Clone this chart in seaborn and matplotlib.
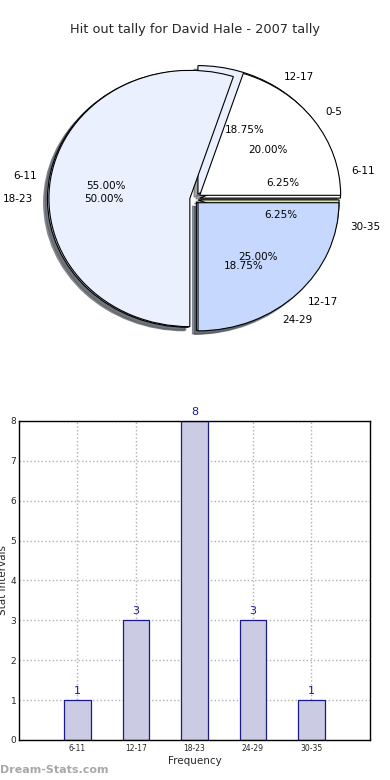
import numpy as np
import pandas as pd
import matplotlib
matplotlib.use("Agg")
import matplotlib.pyplot as plt
import seaborn as sns

# ---- data ----
title = "Hit out tally for David Hale - 2007 tally"
intervals = ["6-11", "12-17", "18-23", "24-29", "30-35"]
counts = [1, 3, 8, 3, 1]
prev_intervals = ["0-5", "6-11", "12-17"]
prev_share = [20, 55, 25]
yticks = [0, 1, 2, 3, 4, 5, 6, 7, 8]

sns.set_style("white")
plt.rcParams['font.family'] = ['DejaVu Sans']

fig = plt.figure(figsize=(3.9, 7.8), dpi=100)

# ---- pie (two overlaid pies, elliptical as in the original) ----
axp = fig.add_axes([0.1, 0.564, 0.795, 0.3615])
colA = ['#ffffff', '#eaf0fd', '#c6d8fd', '#c6d8fd', '#d0e4a0']
wA, tA, aA = axp.pie(counts, labels=intervals, colors=colA, startangle=0,
                     explode=[0.04, 0.05, 0.04, 0.03, 0.03],
                     autopct='%1.2f%%', shadow=True,
                     wedgeprops=dict(edgecolor='black', linewidth=0.8),
                     textprops=dict(fontsize=7.5, color='black'))
colB = ['#ffffff', '#eaf0fd', '#c6d8fd']
wB, tB, aB = axp.pie(prev_share, labels=prev_intervals, colors=colB, startangle=0,
                     explode=[0.05, 0.03, 0.04], autopct='%1.2f%%',
                     shadow=True, wedgeprops=dict(edgecolor='black', linewidth=0.8),
                     textprops=dict(fontsize=7.5, color='black'))
for t in list(tA) + list(aA) + list(tB) + list(aB):
    t.set_zorder(10)
axp.set_aspect('auto')
axp.set_xlim(-1.1, 1.1)
axp.set_ylim(-1.1, 1.1)
axp.axis('off')

fig.text(0.5, 1 - 30 / 780, title, ha='center', va='center', fontsize=9.3)

# ---- bar chart ----
axb = fig.add_axes([0.0487, 0.0513, 0.9, 0.409])
df = pd.DataFrame({"interval": intervals, "count": counts})
sns.barplot(data=df, x="interval", y="count", ax=axb, color='#cbcce4',
            edgecolor='#1a1a8c', linewidth=0.9, width=0.45, saturation=1)
axb.set_xlim(-1, 5)
axb.set_ylim(0, 8)
axb.set_yticks(yticks)
axb.grid(True, linestyle=':', color='#b0b0b0', linewidth=1.0)
axb.set_axisbelow(True)
for i, v in enumerate(counts):
    axb.text(i, v + 0.1, str(v), ha='center', va='bottom', fontsize=8, color='#1a1a8c')
axb.set_xlabel("Frequency", fontsize=7.5, labelpad=2)
axb.set_ylabel("Stat Intervals", fontsize=7.5, labelpad=2)
axb.tick_params(axis='x', labelsize=5.5, direction='in', length=3, width=0.8, pad=3)
axb.tick_params(axis='y', labelsize=6.5, direction='in', length=3, width=0.8, pad=2)
for s in axb.spines.values():
    s.set_color('black')
    s.set_linewidth(1.0)
    s.set_visible(True)

fig.text(0.0, 1 - 770 / 780, "Dream-Stats.com", ha='left', va='center',
         fontsize=8, color='#a8a8a8', fontweight='bold')

fig.savefig("out.png", dpi=100)
